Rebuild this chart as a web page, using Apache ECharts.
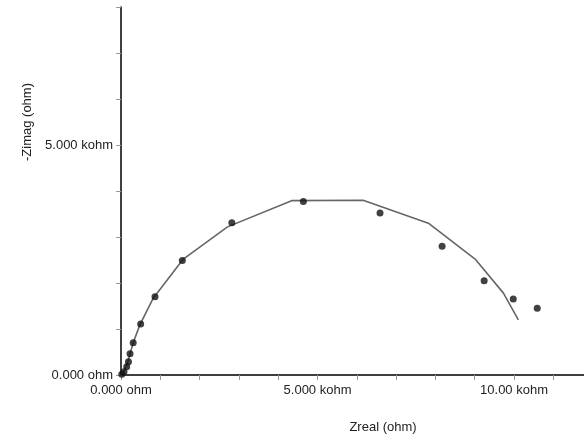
<!DOCTYPE html>
<html>
<head>
<meta charset="utf-8">
<script src="https://cdn.jsdelivr.net/npm/echarts@6/dist/echarts.min.js"></script>
<style>
html,body{margin:0;padding:0;background:#fff;}
#chart{width:584px;height:438px;}
</style>
</head>
<body>
<div id="chart"></div>
<script>
// Measured data (ohm)
var dataZreal = [20, 76, 145, 190, 230, 310, 500, 865, 1560, 2820, 4640, 6590, 8170, 9240, 9980, 10590];
var dataZimag = [15, 70, 180, 290, 460, 700, 1110, 1700, 2490, 3310, 3770, 3520, 2800, 2050, 1650, 1450];
// Fit curve (ohm)
var fitZreal = [0, 30, 90, 150, 210, 310, 480, 820, 1585, 2710, 4340, 6160, 7820, 9010, 9730, 10110];
var fitZimag = [0, 30, 110, 220, 400, 700, 1090, 1670, 2520, 3220, 3790, 3800, 3300, 2520, 1780, 1200];
// Tick labels
var xTickLabels = {0: '0.000 ohm', 5000: '5.000 kohm', 10000: '10.00 kohm'};
var yTickLabels = {0: '0.000 ohm', 5000: '5.000 kohm'};
var xName = 'Zreal (ohm)';
var yName = '-Zimag (ohm)';

function zip(a, b) { return a.map(function (v, i) { return [v, b[i]]; }); }

var chart = echarts.init(document.getElementById('chart'));
var font = 'Liberation Sans, Arial, sans-serif';
chart.setOption({
  animation: false,
  backgroundColor: '#fff',
  grid: {left: 121, top: 7, right: 0, bottom: 63, containLabel: false},
  xAxis: {
    type: 'value', min: 0, max: 11780, interval: 1000,
    axisLine: {show: true, onZero: false, lineStyle: {color: '#000', width: 1.5}},
    axisTick: {show: true, length: 5, lineStyle: {color: '#999', width: 1}},
    splitLine: {show: false},
    axisLabel: {
      margin: 9, color: '#222', fontFamily: font, fontSize: 13,
      showMinLabel: true, showMaxLabel: false,
      formatter: function (v) { return xTickLabels[v] || ''; }
    }
  },
  yAxis: {
    type: 'value', min: 0, max: 8000, interval: 1000,
    axisLine: {show: true, onZero: false, lineStyle: {color: '#000', width: 1.5}},
    axisTick: {show: true, length: 5, lineStyle: {color: '#999', width: 1}},
    splitLine: {show: false},
    axisLabel: {
      margin: 8, color: '#222', fontFamily: font, fontSize: 13,
      formatter: function (v) { return yTickLabels[v] || ''; }
    }
  },
  graphic: [
    {type: 'text', x: 383, y: 427, style: {text: xName, font: '13px ' + font, fill: '#222', textAlign: 'center', textVerticalAlign: 'middle'}},
    {type: 'text', x: 27, y: 122, rotation: Math.PI / 2, style: {text: yName, font: '13px ' + font, fill: '#222', textAlign: 'center', textVerticalAlign: 'middle'}}
  ],
  series: [
    {
      type: 'line', data: zip(fitZreal, fitZimag), showSymbol: false, symbol: 'none',
      lineStyle: {color: '#666', width: 1.6}, z: 2
    },
    {
      type: 'scatter', data: zip(dataZreal, dataZimag), symbol: 'circle', symbolSize: 7,
      itemStyle: {color: '#111'}, z: 3
    }
  ]
});
</script>
</body>
</html>
